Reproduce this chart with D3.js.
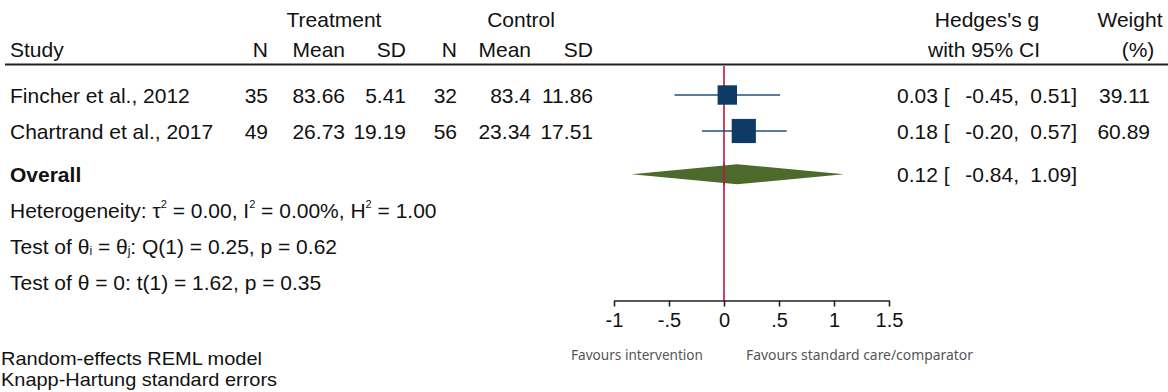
<!DOCTYPE html>
<html>
<head>
<meta charset="utf-8">
<script src="https://cdn.jsdelivr.net/npm/d3@7"></script>
<style>
  html, body { margin: 0; padding: 0; background: #fff; }
  svg { display: block; }
  text { font-family: "Liberation Sans", Arial, sans-serif; fill: #111; }
</style>
</head>
<body>
<svg id="chart" width="1168" height="392"></svg>
<script>
// ---------- data ----------
const studies   = ["Fincher et al., 2012", "Chartrand et al., 2017"];
const treatN    = ["35", "49"];
const treatMean = ["83.66", "26.73"];
const treatSD   = ["5.41", "19.19"];
const ctrlN     = ["32", "56"];
const ctrlMean  = ["83.4", "23.34"];
const ctrlSD    = ["11.86", "17.51"];
const effect    = [0.03, 0.18];
const lower     = [-0.45, -0.20];
const upper     = [0.51, 0.57];
const weight    = [39.11, 60.89];
const overallEffect = 0.12;
const overallLower  = -0.84;
const overallUpper  = 1.09;
const tickValues = [-1, -0.5, 0, 0.5, 1, 1.5];
const tickLabels = ["-1", "-.5", "0", ".5", "1", "1.5"];
const favourLabels = ["Favours intervention", "Favours standard care/comparator"];
const footnotes = ["Random-effects REML model", "Knapp-Hartung standard errors"];

// ---------- layout ----------
const svg = d3.select("#chart");
const FS = 21;
const navy = "#0e3a66";
const ciColor = "#22507e";
const green = "#4b6a2c";
const red = "#c0143c";

const x = d3.scaleLinear().domain([-1, 1.5]).range([614, 889]);
const rowKeys = ["s0", "s1", "overall", "het", "q", "t"];
const rowIdx = [0, 1, 2.2, 3.2, 4.2, 5.2];
const yRow = d3.scaleLinear().domain([0, 1]).range([95, 131]);
const rowY = k => yRow(rowIdx[rowKeys.indexOf(k)]);
const BASE = 7.5;

const cols = [
  { head: "N",    vals: treatN,    xr: 268 },
  { head: "Mean", vals: treatMean, xr: 345 },
  { head: "SD",   vals: treatSD,   xr: 406 },
  { head: "N",    vals: ctrlN,     xr: 457 },
  { head: "Mean", vals: ctrlMean,  xr: 531 },
  { head: "SD",   vals: ctrlSD,    xr: 593 }
];

// ---------- headers ----------
const hdr = svg.append("g").attr("font-size", FS);
hdr.append("text").attr("x", 334).attr("y", 27).attr("text-anchor", "middle").text("Treatment");
hdr.append("text").attr("x", 521).attr("y", 27).attr("text-anchor", "middle").text("Control");
hdr.append("text").attr("x", 10).attr("y", 57).text("Study");
cols.forEach(c => hdr.append("text").attr("x", c.xr).attr("y", 57).attr("text-anchor", "end").text(c.head));
hdr.append("text").attr("x", 987).attr("y", 27).attr("text-anchor", "middle").text("Hedges's g");
hdr.append("text").attr("x", 984).attr("y", 57).attr("text-anchor", "middle").text("with 95% CI");
hdr.append("text").attr("x", 1130).attr("y", 27).attr("text-anchor", "middle").text("Weight");
hdr.append("text").attr("x", 1138).attr("y", 57).attr("text-anchor", "middle").text("(%)");

svg.append("line").attr("x1", 5).attr("x2", 1168).attr("y1", 64.5).attr("y2", 64.5)
  .attr("stroke", "#222").attr("stroke-width", 2);

// ---------- reference line ----------
svg.append("line").attr("x1", x(0)).attr("x2", x(0)).attr("y1", 66).attr("y2", 301)
  .attr("stroke", red).attr("stroke-width", 1.6);

// ---------- study rows ----------
const loc = d3.formatLocale({ decimal: ".", thousands: ",", grouping: [3], currency: ["", ""], minus: "-" });
const fmt = loc.format(".2f");
const body = svg.append("g").attr("font-size", FS);
function ciCells(yc, g, lo, hi) {
  body.append("text").attr("x", 897).attr("y", yc + BASE).text(fmt(g) + " [");
  body.append("text").attr("x", 1019).attr("y", yc + BASE).attr("text-anchor", "end").text(fmt(lo) + ",");
  body.append("text").attr("x", 1077).attr("y", yc + BASE).attr("text-anchor", "end").text(fmt(hi) + "]");
}
studies.forEach((s, i) => {
  const yc = rowY("s" + i);
  body.append("text").attr("x", 10).attr("y", yc + BASE).text(s);
  cols.forEach(c => body.append("text").attr("x", c.xr).attr("y", yc + BASE)
    .attr("text-anchor", "end").text(c.vals[i]));
  ciCells(yc, effect[i], lower[i], upper[i]);
  body.append("text").attr("x", 1150).attr("y", yc + BASE).attr("text-anchor", "end")
    .text(fmt(weight[i]));
});

const sq = d3.scaleSqrt().domain([0, 100]).range([0, 31]);
svg.append("g").selectAll("line").data(studies).join("line")
  .attr("x1", (d, i) => x(lower[i])).attr("x2", (d, i) => x(upper[i]))
  .attr("y1", (d, i) => rowY("s" + i)).attr("y2", (d, i) => rowY("s" + i))
  .attr("stroke", ciColor).attr("stroke-width", 1.6);
svg.append("g").selectAll("rect").data(studies).join("rect")
  .attr("x", (d, i) => x(effect[i]) - sq(weight[i]) / 2)
  .attr("y", (d, i) => rowY("s" + i) - sq(weight[i]) / 2)
  .attr("width", (d, i) => sq(weight[i]))
  .attr("height", (d, i) => sq(weight[i]))
  .attr("fill", navy);

// ---------- overall ----------
const yo = rowY("overall");
svg.append("path")
  .attr("d", `M${x(overallLower)},${yo} L${x(overallEffect)},${yo - 10} L${x(overallUpper)},${yo} L${x(overallEffect)},${yo + 10} Z`)
  .attr("fill", green);
svg.append("line").attr("x1", x(0)).attr("x2", x(0)).attr("y1", yo - 11).attr("y2", yo + 11)
  .attr("stroke", red).attr("stroke-width", 1.6);
body.append("text").attr("x", 10).attr("y", yo + BASE).attr("font-weight", "bold").text("Overall");
ciCells(yo, overallEffect, overallLower, overallUpper);

const het = body.append("text").attr("x", 10).attr("y", rowY("het") + BASE);
het.append("tspan").text("Heterogeneity: τ");
het.append("tspan").attr("font-size", 11).attr("dy", -10).text("2");
het.append("tspan").attr("dy", 10).text(" = 0.00, I");
het.append("tspan").attr("font-size", 11).attr("dy", -10).text("2");
het.append("tspan").attr("dy", 10).text(" = 0.00%, H");
het.append("tspan").attr("font-size", 11).attr("dy", -10).text("2");
het.append("tspan").attr("dy", 10).text(" = 1.00");

const q = body.append("text").attr("x", 10).attr("y", rowY("q") + BASE);
q.append("tspan").text("Test of θ");
q.append("tspan").attr("font-size", 12).attr("dy", 1).text("i");
q.append("tspan").attr("dy", -1).text(" = θ");
q.append("tspan").attr("font-size", 12).attr("dy", 1).text("j");
q.append("tspan").attr("dy", -1).text(": Q(1) = 0.25, p = 0.62");

body.append("text").attr("x", 10).attr("y", rowY("t") + BASE).text("Test of θ = 0: t(1) = 1.62, p = 0.35");

// ---------- axis ----------
const axisY = 300.5;
const axis = d3.axisBottom(x).tickValues(tickValues)
  .tickFormat((d, i) => tickLabels[i]).tickSize(6).tickSizeOuter(0).tickPadding(6);
const ag = svg.append("g").attr("transform", `translate(0,${axisY})`).call(axis);
ag.select(".domain").attr("stroke", "#222").attr("stroke-width", 1.6);
ag.selectAll(".tick line").attr("stroke", "#222").attr("stroke-width", 1.6);
ag.selectAll(".tick text").attr("font-size", 20)
  .attr("font-family", "Liberation Sans, Arial, sans-serif").attr("fill", "#111");

// favours labels
const favX = [571, 746], favW = [132, 227];
favourLabels.forEach((t, i) => svg.append("text")
  .attr("x", favX[i]).attr("y", 360)
  .attr("textLength", favW[i]).attr("lengthAdjust", "spacingAndGlyphs")
  .style("font-family", "'Noto Sans', sans-serif").style("font-size", "15px").style("fill", "#555")
  .text(t));

// footnotes
const footW = [261, 276];
footnotes.forEach((t, i) => svg.append("text")
  .attr("x", 1).attr("y", 365 + i * 21)
  .attr("font-size", 18.5)
  .attr("textLength", footW[i]).attr("lengthAdjust", "spacingAndGlyphs")
  .text(t));
</script>
</body>
</html>
